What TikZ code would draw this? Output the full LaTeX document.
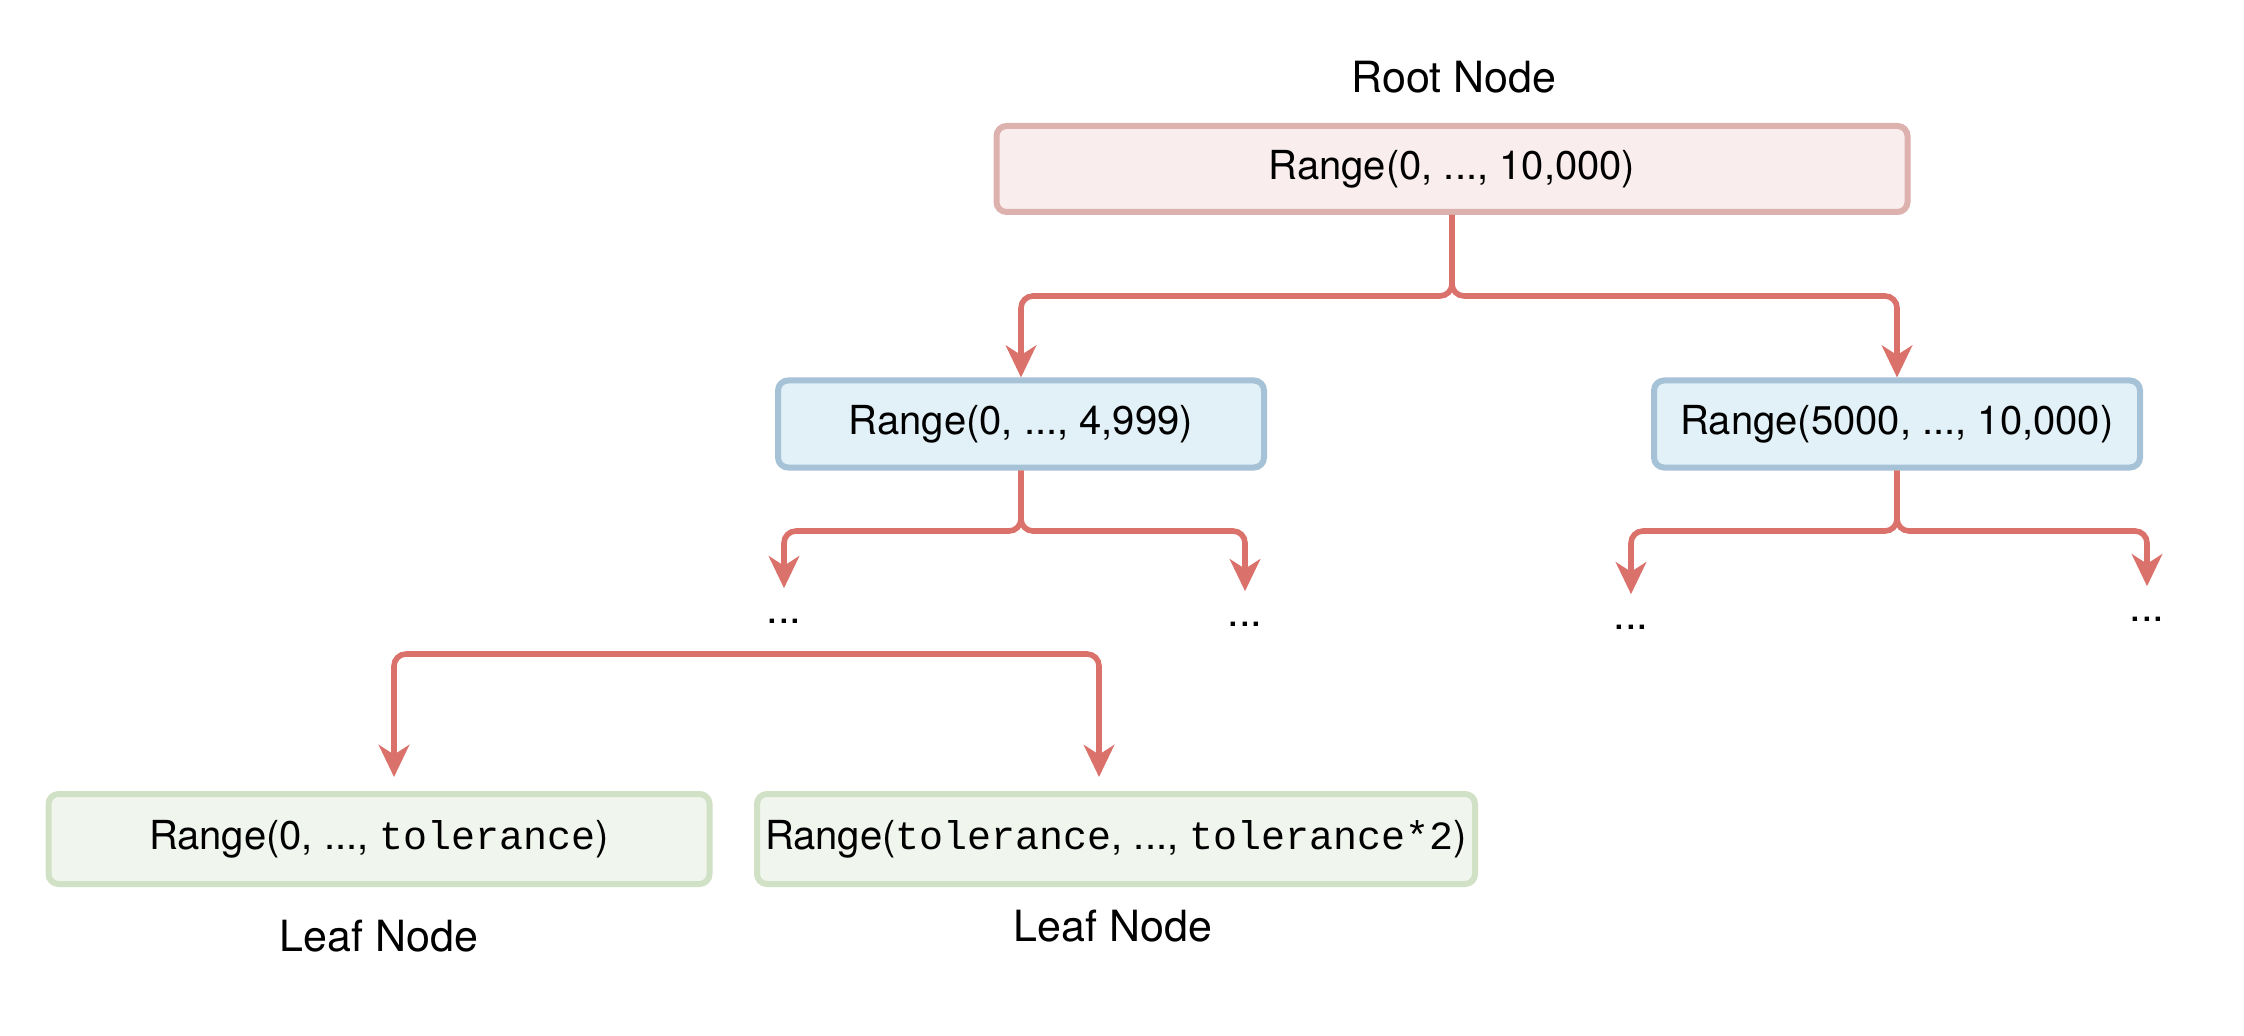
\documentclass[tikz,border=0pt]{standalone}
\usepackage{fontspec}
\setmainfont{TeX Gyre Heros}
\setmonofont{Liberation Mono}
\usetikzlibrary{arrows.meta,calc}
\definecolor{rootfill}{HTML}{FAEDED}
\definecolor{rootdraw}{HTML}{DDB1AE}
\definecolor{midfill}{HTML}{E2F0F8}
\definecolor{middraw}{HTML}{A6C2D7}
\definecolor{leaffill}{HTML}{F0F5ED}
\definecolor{leafdraw}{HTML}{D0E1C5}
\definecolor{conncol}{HTML}{DB716B}
\begin{document}
\begin{tikzpicture}[x=0.25pt,y=-0.25pt,
  box/.style={draw, line width=1.5pt, rounded corners=2.5pt, inner sep=0pt,
    font=\fontsize{10}{12}\selectfont},
  rootbox/.style={box, draw=rootdraw, fill=rootfill, minimum width=227.75pt, minimum height=21.5pt},
  midbox/.style={box, draw=middraw, fill=midfill, minimum width=121.5pt, minimum height=21.75pt},
  leafbox/.style={box, draw=leafdraw, fill=leaffill, minimum height=22.5pt},
  conn/.style={draw=conncol, line width=1.4pt, rounded corners=3pt,
    -{Stealth[length=8pt,width=7.6pt,inset=2.4pt]}},
  lbl/.style={inner sep=0pt, font=\fontsize{10.75}{13}\selectfont},
  dots/.style={inner sep=0pt, minimum height=16pt, font=\fontsize{10.5}{12}\selectfont}]
\useasboundingbox (0,0) rectangle (2244,1036);

\node[lbl] (rootlbl) at (1454,77) {Root Node};
\node[rootbox] (root) at (1452,169) {Range(0, ..., 10,000)};

\node[midbox] (m1) at (1021,424) {Range(0, ..., 4,999)};
\node[midbox] (m2) at (1897,424) {Range(5000, ..., 10,000)};

\node[dots] (d1) at (784,621) {...};
\node[dots] (d2) at (1245,624) {...};
\node[dots] (d3) at (1631,627) {...};
\node[dots] (d4) at (2147,619) {...};

\node[leafbox, minimum width=165.25pt] (l1) at (379,839) {Range(0, ..., \texttt{tolerance})};
\node[leafbox, minimum width=179.5pt] (l2) at (1116,839) {Range(\texttt{tolerance}, ..., \texttt{tolerance*2})};

\node[lbl] (l1lbl) at (379,936) {Leaf Node};
\node[lbl] (l2lbl) at (1113,926) {Leaf Node};

\coordinate (j1) at (1452,296);
\coordinate (j2) at (1021,531);
\coordinate (j3) at (1897,531);
\coordinate (j4) at (746,654);

\draw[conn] (root.south) -- (j1) -| (m1.north);
\draw[conn] (root.south) -- (j1) -| (m2.north);

\draw[conn] (m1.south) -- (j2) -| (d1.north);
\draw[conn] (m1.south) -- (j2) -| (d2.north);
\draw[conn] (m2.south) -- (j3) -| (d3.north);
\draw[conn] (m2.south) -- (j3) -| (d4.north);

\draw[conn, shorten >=3.5pt] (j4) -| ([xshift=3.75pt]l1.north);
\draw[conn, shorten >=3.5pt] (j4) -| ([xshift=-4.25pt]l2.north);
\end{tikzpicture}
\end{document}
